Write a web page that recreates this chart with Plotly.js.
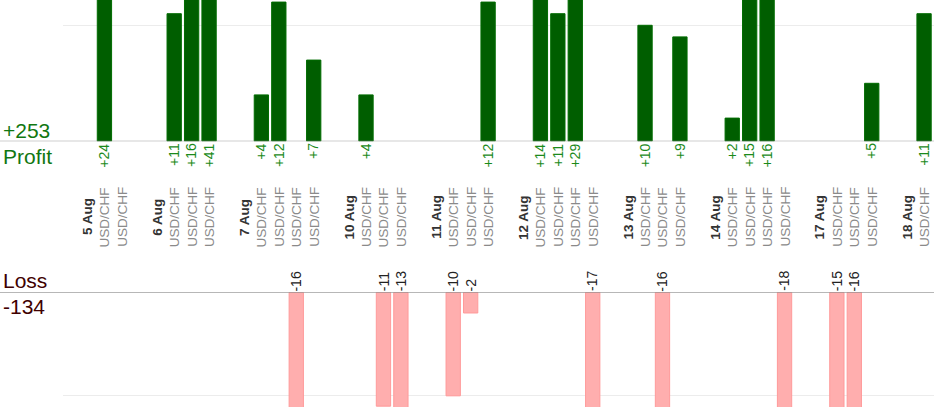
<!DOCTYPE html>
<html>
<head>
<meta charset="utf-8">
<script src="https://cdn.plot.ly/plotly-3.0.1.min.js"></script>
<style>
  html, body { margin: 0; padding: 0; background: #fff; }
  #plot { width: 934px; height: 420px; }
</style>
</head>
<body>
<div id="plot"></div>
<script>
// trading days and how many trades were closed on each
const days = ['5 Aug', '6 Aug', '7 Aug', '10 Aug', '11 Aug', '12 Aug', '13 Aug', '14 Aug', '17 Aug', '18 Aug'];
const tradesPerDay = [2, 3, 4, 3, 3, 4, 3, 4, 3, 1];
const pair = 'USD/CHF';

// result of every trade in pips, in order
const results = [
    24, 0,
    11, 16, 41,
    4, 12, -16, 7,
    4, -11, -13,
    -10, -2, 12,
    14, 11, 29, -17,
    10, -16, 9,
    2, 15, 16, -18,
    -15, -16, 5,
    11,
];

const totalProfit = '+253';
const totalLoss = '-134';

// slot layout: one slot per day label, one per trade, one blank between days
const daySlots = [];
const tradeSlots = [];
let slot = 0;
days.forEach((d, i) => {
    daySlots.push(slot);
    slot++;
    for (let k = 0; k < tradesPerDay[i]; k++) {
        tradeSlots.push(slot);
        slot++;
    }
    slot++;
});

const winX = [], winY = [], lossX = [], lossY = [];
results.forEach((r, i) => {
    if (r > 0) { winX.push(tradeSlots[i]); winY.push(r); }
    if (r < 0) { lossX.push(tradeSlots[i]); lossY.push(r); }
});

const font = '"Liberation Sans", Arial, sans-serif';

const profit = {
    x: winX,
    y: winY,
    type: 'bar',
    xaxis: 'x',
    yaxis: 'y',
    width: 0.82,
    marker: {
        color: '#005e00',
        line: { color: '#006c00', width: 1 },
    },
    hoverinfo: 'skip',
};

const loss = {
    x: lossX,
    y: lossY,
    type: 'bar',
    xaxis: 'x2',
    yaxis: 'y2',
    width: 0.82,
    marker: {
        color: '#ffaeae',
        line: { color: '#ff9a9a', width: 1 },
    },
    hoverinfo: 'skip',
};

const xRange = [-1.376, 48.57];
const plotH = 407;
const py = px => 1 - px / plotH;

const annotations = [];

// profit value labels under the baseline
winX.forEach((x, i) => {
    annotations.push({
        x: x, y: 0, xref: 'x', yref: 'y',
        text: '+' + winY[i],
        textangle: -90,
        xanchor: 'center', yanchor: 'top',
        showarrow: false,
        font: { family: font, size: 14, color: '#1b8a1b' },
        yshift: 0,
    });
});

// loss value labels above the baseline
lossX.forEach((x, i) => {
    annotations.push({
        x: x, y: 0, xref: 'x2', yref: 'y2',
        text: String(lossY[i]),
        textangle: -90,
        xanchor: 'center', yanchor: 'bottom',
        showarrow: false,
        font: { family: font, size: 14, color: '#222' },
        yshift: -1,
    });
});

// day labels and trade labels in the middle band
daySlots.forEach((x, i) => {
    annotations.push({
        x: x, y: py(217), xref: 'x', yref: 'paper',
        text: '<b>' + days[i] + '</b>',
        textangle: -90,
        xanchor: 'center', yanchor: 'middle',
        showarrow: false,
        font: { family: font, size: 13.5, color: '#333' },
    });
});
tradeSlots.forEach(x => {
    annotations.push({
        x: x, y: py(217), xref: 'x', yref: 'paper',
        text: pair,
        textangle: -90,
        xanchor: 'center', yanchor: 'middle',
        showarrow: false,
        font: { family: font, size: 13.5, color: '#8a8a8a' },
    });
});

// totals on the left
const side = [
    [totalProfit, 130, '#117711'],
    ['Profit', 156, '#117711'],
    ['Loss', 280, '#400000'],
    [totalLoss, 306, '#400000'],
];
side.forEach(s => {
    annotations.push({
        x: 0, y: py(s[1]), xref: 'paper', yref: 'paper',
        text: s[0],
        xanchor: 'left', yanchor: 'middle',
        showarrow: false,
        xshift: 1,
        font: { family: font, size: 21, color: s[2] },
    });
});

const layout = {
    width: 934,
    height: 420,
    margin: { l: 0, r: 0, t: 0, b: 13 },
    paper_bgcolor: '#fff',
    plot_bgcolor: '#fff',
    showlegend: false,
    bargap: 0,
    xaxis: {
        domain: [63 / 934, 1],
        range: xRange,
        anchor: 'y',
        showticklabels: false,
        showgrid: false,
        zeroline: false,
        fixedrange: true,
    },
    xaxis2: {
        domain: [63 / 934, 1],
        range: xRange,
        anchor: 'y2',
        showticklabels: false,
        showgrid: false,
        zeroline: false,
        fixedrange: true,
    },
    yaxis: {
        domain: [py(141.3), 1],
        range: [0, 12.18],
        tickvals: [10],
        showticklabels: false,
        gridcolor: '#ececec',
        zeroline: false,
        fixedrange: true,
    },
    yaxis2: {
        domain: [0, py(292.3)],
        range: [-11.08, 0],
        tickvals: [-10],
        showticklabels: false,
        gridcolor: '#ececec',
        zeroline: false,
        fixedrange: true,
    },
    shapes: [
        { type: 'line', xref: 'paper', yref: 'y', x0: 0, x1: 1, y0: 0, y1: 0,
          line: { color: '#888', width: 1 } },
        { type: 'line', xref: 'paper', yref: 'y2', x0: 0, x1: 1, y0: 0, y1: 0,
          line: { color: '#888', width: 1 } },
    ],
    annotations: annotations,
};

const config = {
    staticPlot: true,
    displayModeBar: false,
};

Plotly.newPlot('plot', [profit, loss], layout, config);
</script>
</body>
</html>
